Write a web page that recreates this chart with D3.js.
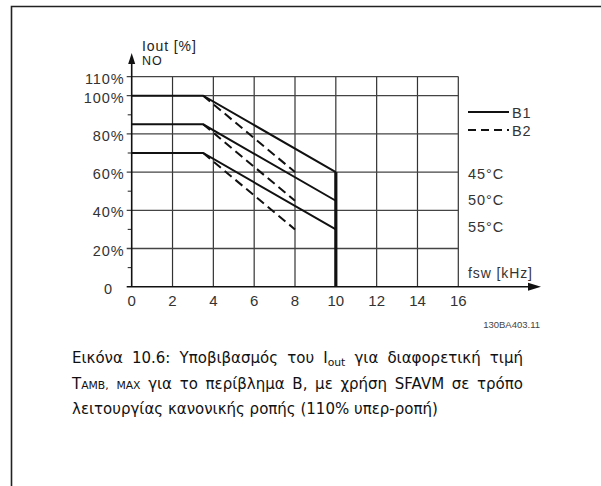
<!DOCTYPE html>
<html><head><meta charset="utf-8">
<script src="https://cdn.jsdelivr.net/npm/d3@7"></script>
<style>html,body{margin:0;padding:0;background:#fff;}svg{display:block;}</style>
</head><body>
<svg id="c" width="601" height="486"></svg>
<script>
// ---- data ----
const xTicks = [0, 2, 4, 6, 8, 10, 12, 14, 16];
const yMajor = [0, 20, 40, 60, 80, 100, 110];
const yMinor = [10, 30, 50, 70, 90];
const yTickLabels = ["0", "20%", "40%", "60%", "80%", "100%", "110%"];
const tempLabels = ["45°C", "50°C", "55°C"];
const b1Freq = [0, 3.5, 10];
const b1Values = [[100, 100, 60], [85, 85, 45], [70, 70, 30]];
const b2Freq = [3.5, 8];
const b2Values = [[100, 60], [85, 45], [70, 30]];
const cutoffFreq = 10;
const cutoffTop = 60;
const legendNames = ["B1", "B2"];
const yAxisTitle = ["Iout [%]", "NO"];
const xAxisTitle = "fsw [kHz]";
const figId = "130BA403.11";

const svg = d3.select("#c");
const x = d3.scaleLinear().domain([0, 16]).range([131.7, 458.3]);
const y = d3.scaleLinear().domain([0, 100]).range([286.7, 95.7]);
const tickFont = "Liberation Sans, Arial, sans-serif";
const ls = 0.9;

// frame
svg.append("path").attr("d", "M11.5,486 V6.5 H601").attr("fill", "none").attr("stroke", "#222").attr("stroke-width", 1.6);

// grid
const g = svg.append("g");
g.selectAll(".vg").data(xTicks.filter(d => d > 0)).join("line")
  .attr("x1", d => x(d)).attr("x2", d => x(d)).attr("y1", y(0)).attr("y2", y(110))
  .attr("stroke", "#333").attr("stroke-width", 1.2);
g.selectAll(".hg").data(yMajor.filter(d => d > 0)).join("line")
  .attr("x1", x(0) - 5).attr("x2", x(16)).attr("y1", d => y(d)).attr("y2", d => y(d))
  .attr("stroke", "#444").attr("stroke-width", 1.3);
g.selectAll(".mt").data(yMinor).join("line")
  .attr("x1", x(0) - 4).attr("x2", x(0)).attr("y1", d => y(d)).attr("y2", d => y(d))
  .attr("stroke", "#333").attr("stroke-width", 1.1);

// axes
svg.append("line").attr("x1", x(0) - 5).attr("x2", 530).attr("y1", y(0)).attr("y2", y(0)).attr("stroke", "#111").attr("stroke-width", 1.6);
svg.append("path").attr("d", `M541,${y(0)} L528,${y(0) - 4} L528,${y(0) + 4} Z`).attr("fill", "#111");
svg.append("line").attr("x1", x(0)).attr("x2", x(0)).attr("y1", y(0)).attr("y2", 62).attr("stroke", "#111").attr("stroke-width", 1.6);
svg.append("path").attr("d", `M${x(0)},53 L${x(0) - 3.5},64 L${x(0) + 3.5},64 Z`).attr("fill", "#111");

// tick labels
svg.selectAll(".xl").data(xTicks).join("text")
  .attr("x", d => x(d)).attr("y", 306).attr("text-anchor", "middle")
  .attr("font-family", tickFont).attr("font-size", 15).attr("fill", "#333").text(d => d);
svg.selectAll(".yl").data(yMajor).join("text")
  .attr("x", (d, i) => d === 0 ? 113 : 124.5).attr("y", d => y(d) + 7).attr("text-anchor", "end")
  .attr("font-family", tickFont).attr("font-size", 14.5).attr("letter-spacing", ls).attr("fill", "#333").text((d, i) => yTickLabels[i]);

// axis titles
svg.append("text").attr("x", 142).attr("y", 51).attr("font-family", tickFont).attr("font-size", 14).attr("letter-spacing", ls).attr("fill", "#222").text(yAxisTitle[0]);
svg.append("text").attr("x", 142).attr("y", 65).attr("font-family", tickFont).attr("font-size", 12.5).attr("letter-spacing", ls).attr("fill", "#222").text(yAxisTitle[1]);
svg.append("text").attr("x", 468).attr("y", 278).attr("font-family", tickFont).attr("font-size", 14).attr("letter-spacing", ls).attr("fill", "#333").text(xAxisTitle);

// curves
const line = d3.line().x(d => x(d[0])).y(d => y(d[1]));
svg.selectAll(".b1").data(b1Values).join("path")
  .attr("d", v => line(b1Freq.map((f, i) => [f, v[i]])))
  .attr("fill", "none").attr("stroke", "#111").attr("stroke-width", 2);
svg.selectAll(".b2").data(b2Values).join("path")
  .attr("d", v => line(b2Freq.map((f, i) => [f, v[i]])))
  .attr("fill", "none").attr("stroke", "#111").attr("stroke-width", 2).attr("stroke-dasharray", "9,5");
svg.append("line").attr("x1", x(cutoffFreq)).attr("x2", x(cutoffFreq)).attr("y1", y(0)).attr("y2", y(cutoffTop))
  .attr("stroke", "#111").attr("stroke-width", 3.2);

// legend
legendNames.forEach((n, i) => {
  const ly = 112 + i * 18;
  svg.append("line").attr("x1", 468).attr("x2", 509).attr("y1", ly).attr("y2", ly)
    .attr("stroke", "#111").attr("stroke-width", 2.2).attr("stroke-dasharray", i ? "8,5" : null);
  svg.append("text").attr("x", 512).attr("y", ly + 5.5).attr("font-family", tickFont).attr("font-size", 14.5).attr("letter-spacing", ls).attr("fill", "#333").text(n);
});
tempLabels.forEach((t, i) => {
  svg.append("text").attr("x", 468).attr("y", [179, 205, 232][i]).attr("font-family", tickFont).attr("font-size", 14.5).attr("letter-spacing", ls).attr("fill", "#333").text(t);
});
svg.append("text").attr("x", 540).attr("y", 328).attr("text-anchor", "end").attr("font-family", tickFont).attr("font-size", 9.5).attr("fill", "#444").text(figId);

// caption (justified lines)
const capFont = "DejaVu Sans, Verdana, sans-serif";
const capSize = 15;
const captionLines = [
  [["Εικόνα"], ["10.6:"], ["Υποβιβασμός"], ["του"], ["I", {sub: "out"}], ["για"], ["διαφορετική"], ["τιμή"]],
  [["T", {sc: "AMB,"}], [{sc: "MAX"}], ["για"], ["το"], ["περίβλημα"], ["B,"], ["με"], ["χρήση"], ["SFAVM"], ["σε"], ["τρόπο"]],
  [["λειτουργίας"], ["κανονικής"], ["ροπής"], ["(110%"], ["υπερ-ροπή)"]]
];
const capLeft = 72, capRight = 523, baselines = [363, 389, 414];
captionLines.forEach((words, li) => {
  const els = words.map(parts => {
    const t = svg.append("text").attr("y", baselines[li]).attr("font-family", capFont).attr("font-size", capSize).attr("fill", "#111");
    parts.forEach(p => {
      if (typeof p === "string") t.append("tspan").text(p);
      else if (p.sub) t.append("tspan").attr("font-size", capSize * 0.72).attr("dy", 3).text(p.sub);
      else if (p.sc) t.append("tspan").attr("font-size", capSize * 0.72).text(p.sc);
    });
    return t;
  });
  const widths = els.map(e => e.node().getComputedTextLength());
  const total = widths.reduce((a, b) => a + b, 0);
  const justify = li < 2;
  const gap = justify ? (capRight - capLeft - total) / (els.length - 1) : capSize * 0.32;
  let cx = capLeft;
  els.forEach((e, i) => { e.attr("x", cx); cx += widths[i] + gap; });
});
</script>
</body></html>
